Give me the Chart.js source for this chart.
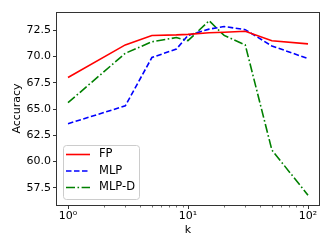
<!DOCTYPE html>
<html>
<head>
<meta charset="utf-8">
<script src="https://cdn.jsdelivr.net/npm/chart.js@4.4.0/dist/chart.umd.min.js"></script>
<style>
  html, body { margin: 0; padding: 0; background: #fff; }
  #wrap { width: 332px; height: 249px; }
</style>
</head>
<body>
<div id="wrap"><canvas id="chart" width="332" height="249"></canvas></div>
<script>
// values
const kValues = [1, 3, 5, 8, 10, 15, 20, 30, 50, 100];
const fpAcc = [68.0, 71.1, 72.0, 72.05, 72.1, 72.25, 72.3, 72.4, 71.5, 71.2];
const mlpAcc = [63.6, 65.3, 69.9, 70.7, 72.0, 72.6, 72.85, 72.55, 71.0, 69.8];
const mlpdAcc = [65.6, 70.3, 71.4, 71.8, 71.5, 73.4, 72.0, 71.1, 61.1, 56.8];
const yTicks = [57.5, 60.0, 62.5, 65.0, 67.5, 70.0, 72.5];
const xMajor = [1, 10, 100];
const xLabels = { 1: "10\u2070", 10: "10\u00b9", 100: "10\u00b2" };
const xMinor = [2, 3, 4, 5, 6, 7, 8, 9, 20, 30, 40, 50, 60, 70, 80, 90];

const FONT = "'DejaVu Sans', sans-serif";

function toPoints(ys) {
    return kValues.map((k, i) => ({ x: k, y: ys[i] }));
}

// box around plot, minor ticks on log axis, legend inside lower left
const framePlugin = {
    id: "frame",
    afterDraw(chart) {
        const ctx = chart.ctx;
        const a = chart.chartArea;
        const xs = chart.scales.x;
        ctx.save();
        ctx.strokeStyle = "#333";
        ctx.lineWidth = 1;
        ctx.strokeRect(Math.round(a.left) + 0.5, Math.round(a.top) + 0.5,
            Math.round(a.right - a.left) - 1, Math.round(a.bottom - a.top));
        ctx.lineWidth = 0.7;
        xMinor.forEach(v => {
            const px = Math.round(xs.getPixelForValue(v)) + 0.5;
            ctx.beginPath();
            ctx.moveTo(px, a.bottom);
            ctx.lineTo(px, a.bottom + 2.5);
            ctx.stroke();
        });

        // legend
        const lx = 63, ly = 145, lw = 76, lh = 54;
        ctx.beginPath();
        ctx.roundRect(lx + 0.5, ly + 0.5, lw, lh, 3);
        ctx.fillStyle = "rgba(255,255,255,0.8)";
        ctx.fill();
        ctx.strokeStyle = "#ccc";
        ctx.lineWidth = 1;
        ctx.stroke();
        ctx.font = "11.5px " + FONT;
        ctx.textBaseline = "middle";
        ctx.fillStyle = "#000";
        chart.data.datasets.forEach((ds, i) => {
            const y = ly + 9.5 + i * 16.5;
            ctx.save();
            ctx.strokeStyle = ds.borderColor;
            ctx.lineWidth = ds.borderWidth;
            ctx.setLineDash(ds.borderDash || []);
            ctx.beginPath();
            ctx.moveTo(lx + 3, y);
            ctx.lineTo(lx + 27, y);
            ctx.stroke();
            ctx.restore();
            ctx.fillText(ds.label, lx + 36, y);
        });
        ctx.restore();
    }
};

new Chart(document.getElementById("chart"), {
    type: "line",
    data: {
        datasets: [
            { label: "FP", data: toPoints(fpAcc), borderColor: "#ff0000", borderWidth: 1.6 },
            { label: "MLP", data: toPoints(mlpAcc), borderColor: "#0000ff", borderWidth: 1.6, borderDash: [5.5, 2.5] },
            { label: "MLP-D", data: toPoints(mlpdAcc), borderColor: "#008000", borderWidth: 1.6, borderDash: [9, 2.5, 1.6, 2.5] },
        ],
    },
    options: {
        responsive: false,
        animation: false,
        devicePixelRatio: 1,
        layout: { padding: { top: 12, right: 12, left: 0, bottom: 0 } },
        elements: { point: { radius: 0 }, line: { tension: 0, fill: false } },
        plugins: { legend: { display: false }, tooltip: { enabled: false } },
        scales: {
            x: {
                type: "logarithmic",
                min: Math.pow(10, -0.1),
                max: Math.pow(10, 2.1),
                afterBuildTicks(s) { s.ticks = xMajor.map(v => ({ value: v, major: true })); },
                afterFit(s) { s.height = 44; },
                ticks: {
                    autoSkip: false,
                    maxRotation: 0,
                    padding: 1,
                    color: "#000",
                    font: { family: FONT, size: 11 },
                    callback: v => xLabels[v] || "",
                },
                grid: { drawOnChartArea: false, tickLength: 4, tickColor: "#333" },
                border: { display: false },
                title: { display: true, text: "k", color: "#000", font: { family: FONT, size: 11 }, padding: { top: 0, bottom: 12 } },
            },
            y: {
                min: 55.87,
                max: 74.23,
                afterBuildTicks(s) { s.ticks = yTicks.map(v => ({ value: v })); },
                afterFit(s) { s.width = 56; },
                ticks: {
                    padding: 2,
                    color: "#000",
                    font: { family: FONT, size: 11 },
                    callback: v => v.toFixed(1),
                },
                grid: { drawOnChartArea: false, tickLength: 3, tickColor: "#333" },
                border: { display: false },
                title: { display: true, text: "Accuracy", color: "#000", font: { family: FONT, size: 11 }, padding: { top: 11, bottom: 0 } },
            },
        },
    },
    plugins: [framePlugin],
});
</script>
</body>
</html>
